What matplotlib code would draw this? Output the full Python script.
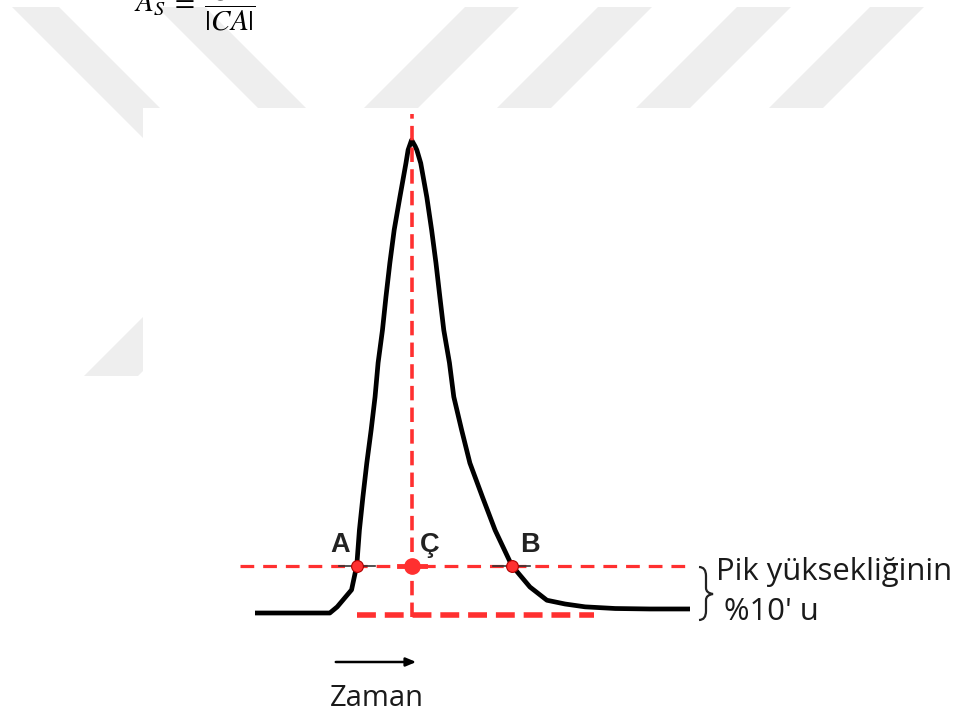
import matplotlib
matplotlib.use("Agg")
import matplotlib.pyplot as plt
from matplotlib.patches import Polygon, Rectangle, PathPatch
from matplotlib.path import Path

# Peak profile: time (arbitrary units) vs detector signal (% of peak height)
peak_time = [0.00, 1.72, 1.89, 2.22, 2.34, 2.40, 2.48, 2.57, 2.67, 2.76, 2.83, 2.93, 3.01,
             3.10, 3.20, 3.33, 3.47, 3.52, 3.60, 3.68, 3.72, 3.81, 3.95, 4.06, 4.16, 4.25,
             4.34, 4.47, 4.57, 4.75, 4.94, 5.23, 5.52, 5.90, 6.32, 6.71, 7.13, 7.59, 8.28,
             9.08, 10.00]
peak_signal = [0.0, 0.0, 1.3, 4.9, 10.1, 17.5, 24.5, 31.7, 38.7, 45.7, 52.9, 59.8, 66.8,
               74.0, 81.0, 87.9, 95.1, 97.9, 100.0, 98.7, 97.9, 95.1, 87.9, 81.0, 74.0, 66.8,
               59.8, 52.9, 45.7, 38.7, 31.7, 24.5, 17.5, 10.1, 5.5, 2.7, 1.9, 1.3, 0.95,
               0.85, 0.85]

# Points at 10 % of the peak height
point_labels = ["A", "Ç", "B"]
point_time = [2.34, 3.60, 5.90]
level_pct = 10.0
apex_time = 3.60

axis_label = "Zaman"

W, H = 959, 720
fig = plt.figure(figsize=(W / 100, H / 100), dpi=100)

# Page layer in pixel units: faint watermark and the white figure panel
bg = fig.add_axes([0, 0, 1, 1])
bg.set_xlim(0, W)
bg.set_ylim(H, 0)
bg.axis("off")

wm = "#eeeeee"
def stripe(x_top, width, y0, y1, lean):
    # lean = +1 runs down-right, -1 runs down-left (45 degrees)
    h = y1 - y0
    pts = [(x_top, y0), (x_top + width, y0),
           (x_top + width + lean * h, y1), (x_top + lean * h, y1)]
    bg.add_patch(Polygon(pts, closed=True, facecolor=wm, edgecolor="none", zorder=1))

stripe(12, 47, 7, 150, +1)
stripe(157, 48, 7, 108, +1)
for xt in (465, 598, 737, 870):
    stripe(xt, 54, 7, 108, -1)
stripe(140 + 44, 54, 276, 376, -1)

bg.add_patch(Rectangle((143, 108), W - 143, H - 108, facecolor="white",
                       edgecolor="none", zorder=2))

# Asymmetry factor formula, running off the top of the page
bg.text(134, 11.5, r"$A_S\;=\;\dfrac{|CB|}{|CA|}$", fontsize=21, ha="left",
        va="baseline", math_fontfamily="stix", color="black", zorder=5)

# Chromatogram axes: signal 0 at y=613 px, apex (100) at y=140 px; time 0..10 over x=255..690 px
x0, x1, yb, yt = 255, 690, 613, 140
ax = fig.add_axes([x0 / W, (H - yb) / H, (x1 - x0) / W, (yb - yt) / H])
ax.set_xlim(0, 10)
ax.set_ylim(0, 100)
ax.axis("off")
ax.set_zorder(3)
ax.patch.set_visible(False)

red = "#ff3030"
ax.plot(peak_time, peak_signal, color="black", lw=3.4, solid_capstyle="butt",
        solid_joinstyle="round", clip_on=False, zorder=3)

# 10 % level line
ax.plot([-0.34, 9.9], [level_pct, level_pct], color=red, lw=2.3,
        dashes=(4.3, 2.8), clip_on=False, zorder=4)
# baseline reference
ax.plot([2.35, 7.8], [-0.4, -0.4], color=red, lw=4.0,
        dashes=(3.4, 1.6), clip_on=False, zorder=4)
# vertical line through the apex
ax.plot([apex_time, apex_time], [-0.9, 105.5], color=red, lw=2.6,
        dashes=(4.0, 2.0), clip_on=False, zorder=4)

# short cross ticks at A and B
for t in (point_time[0], point_time[2]):
    ax.plot([t - 0.42, t + 0.42], [level_pct, level_pct], color="#333333",
            lw=1.2, clip_on=False, zorder=4.5)

ax.plot([point_time[0], point_time[2]], [level_pct, level_pct], "o", color=red,
        ms=8.5, mec="#b00000", mew=0.8, clip_on=False, zorder=6)
ax.plot([point_time[1]], [level_pct], "o", color=red, ms=11, mec=red,
        clip_on=False, zorder=6)
ax.plot([point_time[1] - 0.3, point_time[1] + 0.3], [level_pct, level_pct],
        color=red, lw=3.5, clip_on=False, zorder=6)

label_dx = [-0.39, 0.42, 0.42]
for lab, t, dx in zip(point_labels, point_time, label_dx):
    ax.text(t + dx, level_pct + 2.9, lab, fontsize=19.5, fontweight="bold",
            family="Liberation Sans", color="#222222", ha="center", va="baseline",
            clip_on=False)

# Time direction arrow and label
bg.annotate("", xy=(419, 662), xytext=(333, 662),
            arrowprops=dict(arrowstyle="-|>,head_length=0.6,head_width=0.25",
                            color="black", lw=1.8), zorder=6)
bg.text(377, 699, axis_label, fontsize=21, family="Open Sans", color="#1a1a1a",
        ha="center", va="center", zorder=6)

# Brace marking the 10 % height
brace = Path(
    [(699, 567), (706, 567), (706, 576), (706, 588), (706, 593), (713, 594),
     (706, 595), (706, 600), (706, 611), (706, 620), (699, 620)],
    [Path.MOVETO, Path.CURVE3, Path.CURVE3, Path.LINETO, Path.CURVE3, Path.CURVE3,
     Path.CURVE3, Path.CURVE3, Path.LINETO, Path.CURVE3, Path.CURVE3])
bg.add_patch(PathPatch(brace, facecolor="none", edgecolor="#222222", lw=1.6, zorder=6))

bg.text(716, 580, "Pik yüksekliğinin", fontsize=22.3, family="Open Sans",
        color="#1a1a1a", ha="left", va="baseline", zorder=6)
bg.text(724, 620, "%10' u", fontsize=22.3, family="Open Sans",
        color="#1a1a1a", ha="left", va="baseline", zorder=6)

fig.savefig("out.png", dpi=100)
